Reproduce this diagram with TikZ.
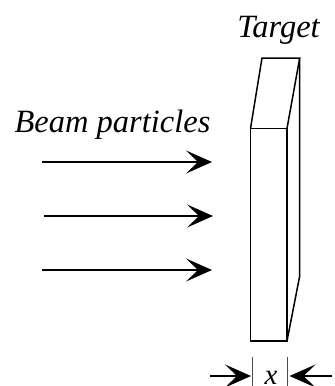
\documentclass[tikz,border=0pt]{standalone}
\usepackage{fontspec}
\setmainfont{Liberation Serif}
\usetikzlibrary{arrows.meta}
\tikzset{
  edge/.style={line width=1.5pt, line join=miter},
  beam/.style={line width=1.6pt, -{Stealth[length=26pt,width=23pt,inset=12pt]}, shorten >=0pt},
  lab/.style={inner sep=0pt, anchor=base, font=\fontsize{32.5}{33}\selectfont\itshape},
  tick/.style={line width=1pt, draw=black!70}
}
\begin{document}
\begin{tikzpicture}[x=1pt,y=-1pt]
\useasboundingbox (0,0) rectangle (335,386);
\node[lab] (target) at (278.5,37) {Target};
\node[lab] (beamlabel) at (112.5,132) {Beam particles};
\node[lab, font=\fontsize{29}{29}\selectfont\itshape] (xlabel) at (271,384.5) {x};
% target block
\coordinate (fa) at (250.5,128.5);
\coordinate (fb) at (287,128.5);
\coordinate (fc) at (287,341);
\coordinate (fd) at (250.5,341);
\coordinate (ba) at (262,58);
\coordinate (bb) at (299.7,58);
\coordinate (bc) at (299.7,276);
\draw[edge] (fa) -- (fb) -- (fc) -- (fd) -- cycle;
\draw[edge] (fa) -- (ba) -- (bb) -- (fb);
\draw[edge] (bb) -- (bc) -- (fc);
% beam arrows
\coordinate (s1) at (42,162);   \coordinate (e1) at (212,162);
\coordinate (s2) at (44,216);   \coordinate (e2) at (213,216);
\coordinate (s3) at (42,270);   \coordinate (e3) at (212,270);
\draw[beam] (s1) -- (e1);
\draw[beam] (s2) -- (e2);
\draw[beam] (s3) -- (e3);
% thickness marks
\coordinate (t1) at (252,357);  \coordinate (t1b) at (252,386);
\coordinate (t2) at (287,357);  \coordinate (t2b) at (287,386);
\coordinate (l0) at (210,376);  \coordinate (l1) at (251,376);
\coordinate (r0) at (332,376);  \coordinate (r1) at (289.5,376);
\draw[tick] (t1) -- (t1b);
\draw[tick] (t2) -- (t2b);
\draw[beam] (l0) -- (l1);
\draw[beam] (r0) -- (r1);
\end{tikzpicture}
\end{document}
